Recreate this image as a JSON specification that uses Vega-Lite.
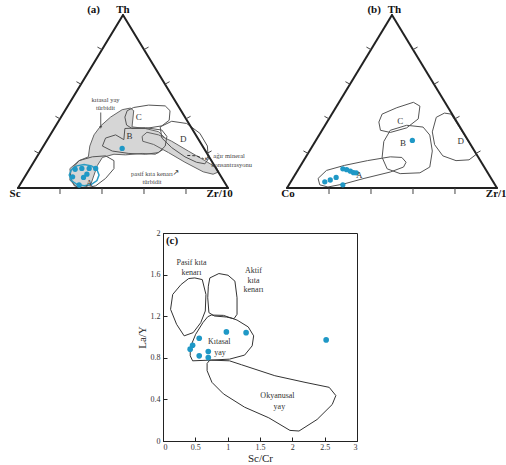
{
"$schema": "https://vega.github.io/schema/vega-lite/v6.json",
"background": "white",
"padding": 0,
"config": {"font": "Liberation Serif", "view": {"stroke": null}},
"datasets": {
"poly": [
{"p":"a","s":"G1","t":"gray","i":0,"x":0.252,"y":0.048},
{"p":"a","s":"G1","t":"gray","i":1,"x":0.247,"y":0.097},
{"p":"a","s":"G1","t":"gray","i":2,"x":0.291,"y":0.137},
{"p":"a","s":"G1","t":"gray","i":3,"x":0.335,"y":0.156},
{"p":"a","s":"G1","t":"gray","i":4,"x":0.342,"y":0.210},
{"p":"a","s":"G1","t":"gray","i":5,"x":0.362,"y":0.266},
{"p":"a","s":"G1","t":"gray","i":6,"x":0.394,"y":0.311},
{"p":"a","s":"G1","t":"gray","i":7,"x":0.441,"y":0.355},
{"p":"a","s":"G1","t":"gray","i":8,"x":0.496,"y":0.392},
{"p":"a","s":"G1","t":"gray","i":9,"x":0.535,"y":0.400},
{"p":"a","s":"G1","t":"gray","i":10,"x":0.551,"y":0.387},
{"p":"a","s":"G1","t":"gray","i":11,"x":0.543,"y":0.306},
{"p":"a","s":"G1","t":"gray","i":12,"x":0.606,"y":0.298},
{"p":"a","s":"G1","t":"gray","i":13,"x":0.669,"y":0.282},
{"p":"a","s":"G1","t":"gray","i":14,"x":0.701,"y":0.250},
{"p":"a","s":"G1","t":"gray","i":15,"x":0.693,"y":0.194},
{"p":"a","s":"G1","t":"gray","i":16,"x":0.654,"y":0.169},
{"p":"a","s":"G1","t":"gray","i":17,"x":0.591,"y":0.173},
{"p":"a","s":"G1","t":"gray","i":18,"x":0.512,"y":0.166},
{"p":"a","s":"G1","t":"gray","i":19,"x":0.457,"y":0.169},
{"p":"a","s":"G1","t":"gray","i":20,"x":0.402,"y":0.153},
{"p":"a","s":"G1","t":"gray","i":21,"x":0.378,"y":0.113},
{"p":"a","s":"G1","t":"gray","i":22,"x":0.362,"y":0.065},
{"p":"a","s":"G1","t":"gray","i":23,"x":0.346,"y":0.016},
{"p":"a","s":"G1","t":"gray","i":24,"x":0.307,"y":0.000},
{"p":"a","s":"G1","t":"gray","i":25,"x":0.268,"y":0.011},
{"p":"a","s":"P","t":"gray","i":0,"x":0.591,"y":0.258},
{"p":"a","s":"P","t":"gray","i":1,"x":0.614,"y":0.279},
{"p":"a","s":"P","t":"gray","i":2,"x":0.669,"y":0.266},
{"p":"a","s":"P","t":"gray","i":3,"x":0.732,"y":0.234},
{"p":"a","s":"P","t":"gray","i":4,"x":0.811,"y":0.185},
{"p":"a","s":"P","t":"gray","i":5,"x":0.890,"y":0.137},
{"p":"a","s":"P","t":"gray","i":6,"x":0.945,"y":0.102},
{"p":"a","s":"P","t":"gray","i":7,"x":0.956,"y":0.081},
{"p":"a","s":"P","t":"gray","i":8,"x":0.929,"y":0.069},
{"p":"a","s":"P","t":"gray","i":9,"x":0.882,"y":0.081},
{"p":"a","s":"P","t":"gray","i":10,"x":0.795,"y":0.129},
{"p":"a","s":"P","t":"gray","i":11,"x":0.717,"y":0.177},
{"p":"a","s":"P","t":"gray","i":12,"x":0.646,"y":0.218},
{"p":"a","s":"P","t":"gray","i":13,"x":0.594,"y":0.234},
{"p":"a","s":"A","t":"line","i":0,"x":0.252,"y":0.089},
{"p":"a","s":"A","t":"line","i":1,"x":0.291,"y":0.137},
{"p":"a","s":"A","t":"line","i":2,"x":0.354,"y":0.156},
{"p":"a","s":"A","t":"line","i":3,"x":0.417,"y":0.161},
{"p":"a","s":"A","t":"line","i":4,"x":0.457,"y":0.137},
{"p":"a","s":"A","t":"line","i":5,"x":0.457,"y":0.097},
{"p":"a","s":"A","t":"line","i":6,"x":0.417,"y":0.048},
{"p":"a","s":"A","t":"line","i":7,"x":0.370,"y":0.011},
{"p":"a","s":"A","t":"line","i":8,"x":0.323,"y":0.000},
{"p":"a","s":"A","t":"line","i":9,"x":0.276,"y":0.008},
{"p":"a","s":"A","t":"line","i":10,"x":0.247,"y":0.040},
{"p":"a","s":"B","t":"line","i":0,"x":0.509,"y":0.298},
{"p":"a","s":"B","t":"line","i":1,"x":0.606,"y":0.302},
{"p":"a","s":"B","t":"line","i":2,"x":0.685,"y":0.290},
{"p":"a","s":"B","t":"line","i":3,"x":0.709,"y":0.258},
{"p":"a","s":"B","t":"line","i":4,"x":0.701,"y":0.210},
{"p":"a","s":"B","t":"line","i":5,"x":0.669,"y":0.177},
{"p":"a","s":"B","t":"line","i":6,"x":0.606,"y":0.169},
{"p":"a","s":"B","t":"line","i":7,"x":0.528,"y":0.173},
{"p":"a","s":"B","t":"line","i":8,"x":0.449,"y":0.185},
{"p":"a","s":"B","t":"line","i":9,"x":0.402,"y":0.210},
{"p":"a","s":"B","t":"line","i":10,"x":0.417,"y":0.250},
{"p":"a","s":"B","t":"line","i":11,"x":0.465,"y":0.266},
{"p":"a","s":"B","t":"line","i":12,"x":0.504,"y":0.242},
{"p":"a","s":"C","t":"line","i":0,"x":0.520,"y":0.387},
{"p":"a","s":"C","t":"line","i":1,"x":0.551,"y":0.403},
{"p":"a","s":"C","t":"line","i":2,"x":0.622,"y":0.415},
{"p":"a","s":"C","t":"line","i":3,"x":0.701,"y":0.411},
{"p":"a","s":"C","t":"line","i":4,"x":0.724,"y":0.387},
{"p":"a","s":"C","t":"line","i":5,"x":0.720,"y":0.339},
{"p":"a","s":"C","t":"line","i":6,"x":0.685,"y":0.311},
{"p":"a","s":"C","t":"line","i":7,"x":0.606,"y":0.298},
{"p":"a","s":"C","t":"line","i":8,"x":0.543,"y":0.298},
{"p":"a","s":"C","t":"line","i":9,"x":0.517,"y":0.315},
{"p":"a","s":"C","t":"line","i":10,"x":0.509,"y":0.355},
{"p":"a","s":"D","t":"line","i":0,"x":0.677,"y":0.306},
{"p":"a","s":"D","t":"line","i":1,"x":0.732,"y":0.334},
{"p":"a","s":"D","t":"line","i":2,"x":0.803,"y":0.323},
{"p":"a","s":"D","t":"line","i":3,"x":0.866,"y":0.274},
{"p":"a","s":"D","t":"line","i":4,"x":0.902,"y":0.210},
{"p":"a","s":"D","t":"line","i":5,"x":0.906,"y":0.145},
{"p":"a","s":"D","t":"line","i":6,"x":0.890,"y":0.121},
{"p":"a","s":"D","t":"line","i":7,"x":0.850,"y":0.129},
{"p":"a","s":"D","t":"line","i":8,"x":0.795,"y":0.156},
{"p":"a","s":"D","t":"line","i":9,"x":0.732,"y":0.202},
{"p":"a","s":"D","t":"line","i":10,"x":0.685,"y":0.250},
{"p":"a","s":"E","t":"teal","i":0,"x":0.386,"y":0.065},
{"p":"a","s":"E","t":"teal","i":1,"x":0.376,"y":0.092},
{"p":"a","s":"E","t":"teal","i":2,"x":0.350,"y":0.111},
{"p":"a","s":"E","t":"teal","i":3,"x":0.315,"y":0.118},
{"p":"a","s":"E","t":"teal","i":4,"x":0.280,"y":0.111},
{"p":"a","s":"E","t":"teal","i":5,"x":0.254,"y":0.092},
{"p":"a","s":"E","t":"teal","i":6,"x":0.244,"y":0.065},
{"p":"a","s":"E","t":"teal","i":7,"x":0.254,"y":0.037},
{"p":"a","s":"E","t":"teal","i":8,"x":0.280,"y":0.018},
{"p":"a","s":"E","t":"teal","i":9,"x":0.315,"y":0.011},
{"p":"a","s":"E","t":"teal","i":10,"x":0.350,"y":0.018},
{"p":"a","s":"E","t":"teal","i":11,"x":0.376,"y":0.037},
{"p":"b","s":"A","t":"line","i":0,"x":0.148,"y":0.048},
{"p":"b","s":"A","t":"line","i":1,"x":0.188,"y":0.088},
{"p":"b","s":"A","t":"line","i":2,"x":0.273,"y":0.113},
{"p":"b","s":"A","t":"line","i":3,"x":0.383,"y":0.137},
{"p":"b","s":"A","t":"line","i":4,"x":0.492,"y":0.156},
{"p":"b","s":"A","t":"line","i":5,"x":0.547,"y":0.153},
{"p":"b","s":"A","t":"line","i":6,"x":0.567,"y":0.129},
{"p":"b","s":"A","t":"line","i":7,"x":0.555,"y":0.105},
{"p":"b","s":"A","t":"line","i":8,"x":0.492,"y":0.080},
{"p":"b","s":"A","t":"line","i":9,"x":0.367,"y":0.048},
{"p":"b","s":"A","t":"line","i":10,"x":0.273,"y":0.021},
{"p":"b","s":"A","t":"line","i":11,"x":0.195,"y":0.005},
{"p":"b","s":"A","t":"line","i":12,"x":0.156,"y":0.016},
{"p":"b","s":"B","t":"line","i":0,"x":0.461,"y":0.233},
{"p":"b","s":"B","t":"line","i":1,"x":0.492,"y":0.289},
{"p":"b","s":"B","t":"line","i":2,"x":0.570,"y":0.314},
{"p":"b","s":"B","t":"line","i":3,"x":0.648,"y":0.305},
{"p":"b","s":"B","t":"line","i":4,"x":0.680,"y":0.265},
{"p":"b","s":"B","t":"line","i":5,"x":0.692,"y":0.185},
{"p":"b","s":"B","t":"line","i":6,"x":0.680,"y":0.105},
{"p":"b","s":"B","t":"line","i":7,"x":0.633,"y":0.076},
{"p":"b","s":"B","t":"line","i":8,"x":0.539,"y":0.072},
{"p":"b","s":"B","t":"line","i":9,"x":0.477,"y":0.096},
{"p":"b","s":"B","t":"line","i":10,"x":0.453,"y":0.153},
{"p":"b","s":"C","t":"line","i":0,"x":0.4375,"y":0.330},
{"p":"b","s":"C","t":"line","i":1,"x":0.453,"y":0.370},
{"p":"b","s":"C","t":"line","i":2,"x":0.523,"y":0.402},
{"p":"b","s":"C","t":"line","i":3,"x":0.602,"y":0.429},
{"p":"b","s":"C","t":"line","i":4,"x":0.633,"y":0.410},
{"p":"b","s":"C","t":"line","i":5,"x":0.625,"y":0.346},
{"p":"b","s":"C","t":"line","i":6,"x":0.570,"y":0.301},
{"p":"b","s":"C","t":"line","i":7,"x":0.492,"y":0.278},
{"p":"b","s":"C","t":"line","i":8,"x":0.445,"y":0.289},
{"p":"b","s":"D","t":"line","i":0,"x":0.711,"y":0.354},
{"p":"b","s":"D","t":"line","i":1,"x":0.750,"y":0.375},
{"p":"b","s":"D","t":"line","i":2,"x":0.781,"y":0.370},
{"p":"b","s":"D","t":"line","i":3,"x":0.902,"y":0.169},
{"p":"b","s":"D","t":"line","i":4,"x":0.867,"y":0.141},
{"p":"b","s":"D","t":"line","i":5,"x":0.805,"y":0.137},
{"p":"b","s":"D","t":"line","i":6,"x":0.742,"y":0.161},
{"p":"b","s":"D","t":"line","i":7,"x":0.703,"y":0.217},
{"p":"b","s":"D","t":"line","i":8,"x":0.692,"y":0.281},
{"p":"c","s":"Pk","t":"line","i":0,"x":0.491,"y":1.568},
{"p":"c","s":"Pk","t":"line","i":1,"x":0.607,"y":1.552},
{"p":"c","s":"Pk","t":"line","i":2,"x":0.664,"y":1.409},
{"p":"c","s":"Pk","t":"line","i":3,"x":0.654,"y":1.250},
{"p":"c","s":"Pk","t":"line","i":4,"x":0.584,"y":1.138},
{"p":"c","s":"Pk","t":"line","i":5,"x":0.467,"y":1.042},
{"p":"c","s":"Pk","t":"line","i":6,"x":0.327,"y":1.011},
{"p":"c","s":"Pk","t":"line","i":7,"x":0.210,"y":1.122},
{"p":"c","s":"Pk","t":"line","i":8,"x":0.117,"y":1.266},
{"p":"c","s":"Pk","t":"line","i":9,"x":0.150,"y":1.409},
{"p":"c","s":"Pk","t":"line","i":10,"x":0.280,"y":1.505},
{"p":"c","s":"Pk","t":"line","i":11,"x":0.397,"y":1.562},
{"p":"c","s":"Ak","t":"line","i":0,"x":0.724,"y":1.568},
{"p":"c","s":"Ak","t":"line","i":1,"x":0.864,"y":1.610},
{"p":"c","s":"Ak","t":"line","i":2,"x":1.005,"y":1.594},
{"p":"c","s":"Ak","t":"line","i":3,"x":1.112,"y":1.537},
{"p":"c","s":"Ak","t":"line","i":4,"x":1.145,"y":1.377},
{"p":"c","s":"Ak","t":"line","i":5,"x":1.145,"y":1.218},
{"p":"c","s":"Ak","t":"line","i":6,"x":1.098,"y":1.176},
{"p":"c","s":"Ak","t":"line","i":7,"x":0.981,"y":1.192},
{"p":"c","s":"Ak","t":"line","i":8,"x":0.794,"y":1.202},
{"p":"c","s":"Ak","t":"line","i":9,"x":0.710,"y":1.234},
{"p":"c","s":"Ak","t":"line","i":10,"x":0.692,"y":1.377},
{"p":"c","s":"Ak","t":"line","i":11,"x":0.701,"y":1.489},
{"p":"c","s":"Ky","t":"line","i":0,"x":0.748,"y":1.211},
{"p":"c","s":"Ky","t":"line","i":1,"x":0.935,"y":1.208},
{"p":"c","s":"Ky","t":"line","i":2,"x":1.145,"y":1.163},
{"p":"c","s":"Ky","t":"line","i":3,"x":1.318,"y":1.097},
{"p":"c","s":"Ky","t":"line","i":4,"x":1.402,"y":1.011},
{"p":"c","s":"Ky","t":"line","i":5,"x":1.379,"y":0.915},
{"p":"c","s":"Ky","t":"line","i":6,"x":1.262,"y":0.826},
{"p":"c","s":"Ky","t":"line","i":7,"x":1.028,"y":0.787},
{"p":"c","s":"Ky","t":"line","i":8,"x":0.748,"y":0.778},
{"p":"c","s":"Ky","t":"line","i":9,"x":0.458,"y":0.771},
{"p":"c","s":"Ky","t":"line","i":10,"x":0.421,"y":0.819},
{"p":"c","s":"Ky","t":"line","i":11,"x":0.421,"y":0.899},
{"p":"c","s":"Ky","t":"line","i":12,"x":0.505,"y":1.026},
{"p":"c","s":"Ky","t":"line","i":13,"x":0.617,"y":1.138},
{"p":"c","s":"Ky","t":"line","i":14,"x":0.692,"y":1.195},
{"p":"c","s":"Oy","t":"line","i":0,"x":0.724,"y":0.778},
{"p":"c","s":"Oy","t":"line","i":1,"x":1.028,"y":0.771},
{"p":"c","s":"Oy","t":"line","i":2,"x":1.215,"y":0.733},
{"p":"c","s":"Oy","t":"line","i":3,"x":1.729,"y":0.628},
{"p":"c","s":"Oy","t":"line","i":4,"x":2.196,"y":0.564},
{"p":"c","s":"Oy","t":"line","i":5,"x":2.570,"y":0.516},
{"p":"c","s":"Oy","t":"line","i":6,"x":2.673,"y":0.437},
{"p":"c","s":"Oy","t":"line","i":7,"x":2.617,"y":0.351},
{"p":"c","s":"Oy","t":"line","i":8,"x":2.383,"y":0.207},
{"p":"c","s":"Oy","t":"line","i":9,"x":2.103,"y":0.096},
{"p":"c","s":"Oy","t":"line","i":10,"x":1.963,"y":0.102},
{"p":"c","s":"Oy","t":"line","i":11,"x":1.636,"y":0.223},
{"p":"c","s":"Oy","t":"line","i":12,"x":1.262,"y":0.325},
{"p":"c","s":"Oy","t":"line","i":13,"x":0.935,"y":0.453},
{"p":"c","s":"Oy","t":"line","i":14,"x":0.757,"y":0.564},
{"p":"c","s":"Oy","t":"line","i":15,"x":0.682,"y":0.676},
{"p":"c","s":"Oy","t":"line","i":16,"x":0.682,"y":0.746}
],
"dash": [
{"i":0,"x":0.806,"y":0.163},
{"i":1,"x":0.850,"y":0.161},
{"i":2,"x":0.884,"y":0.147}
],
"tri": [
{"k":"side","x":0,"y":0,"x2":1,"y2":0},
{"k":"side","x":0,"y":0,"x2":0.5,"y2":0.866},
{"k":"side","x":1,"y":0,"x2":0.5,"y2":0.866},
{"k":"tick","x":0.2,"y":0,"x2":0.2,"y2":-0.03},
{"k":"tick","x":0.4,"y":0,"x2":0.4,"y2":-0.03},
{"k":"tick","x":0.6,"y":0,"x2":0.6,"y2":-0.03},
{"k":"tick","x":0.8,"y":0,"x2":0.8,"y2":-0.03},
{"k":"tick","x":0.1,"y":0.1732,"x2":0.0783,"y2":0.1857},
{"k":"tick","x":0.2,"y":0.3464,"x2":0.1783,"y2":0.3589},
{"k":"tick","x":0.3,"y":0.5196,"x2":0.2783,"y2":0.5321},
{"k":"tick","x":0.4,"y":0.6928,"x2":0.3783,"y2":0.7053},
{"k":"tick","x":0.9,"y":0.1732,"x2":0.9217,"y2":0.1857},
{"k":"tick","x":0.8,"y":0.3464,"x2":0.8217,"y2":0.3589},
{"k":"tick","x":0.7,"y":0.5196,"x2":0.7217,"y2":0.5321},
{"k":"tick","x":0.6,"y":0.6928,"x2":0.6217,"y2":0.7053}
],
"dots": [
{"p":"a","x":0.272,"y":0.094},
{"p":"a","x":0.304,"y":0.098},
{"p":"a","x":0.339,"y":0.098},
{"p":"a","x":0.370,"y":0.098},
{"p":"a","x":0.328,"y":0.069},
{"p":"a","x":0.312,"y":0.053},
{"p":"a","x":0.260,"y":0.056},
{"p":"a","x":0.291,"y":0.015},
{"p":"a","x":0.496,"y":0.198},
{"p":"b","x":0.266,"y":0.096},
{"p":"b","x":0.284,"y":0.092},
{"p":"b","x":0.302,"y":0.084},
{"p":"b","x":0.317,"y":0.077},
{"p":"b","x":0.330,"y":0.076},
{"p":"b","x":0.234,"y":0.053},
{"p":"b","x":0.206,"y":0.040},
{"p":"b","x":0.180,"y":0.031},
{"p":"b","x":0.266,"y":0.016},
{"p":"b","x":0.597,"y":0.238},
{"p":"c","x":0.98,"y":1.049},
{"p":"c","x":1.285,"y":1.042},
{"p":"c","x":0.56,"y":0.988},
{"p":"c","x":0.458,"y":0.921},
{"p":"c","x":0.42,"y":0.883},
{"p":"c","x":0.56,"y":0.819},
{"p":"c","x":0.70,"y":0.861},
{"p":"c","x":0.70,"y":0.803},
{"p":"c","x":2.523,"y":0.972}
],
"texts": [
{"p":"a","k":"lab","x":0.36,"y":0.893,"text":"(a)"},
{"p":"a","k":"vtx","x":0.5,"y":0.893,"text":"Th"},
{"p":"a","k":"vtx","x":-0.014,"y":-0.03,"text":"Sc"},
{"p":"a","k":"vtx","x":0.96,"y":-0.03,"text":"Zr/10"},
{"p":"a","k":"fld","x":0.575,"y":0.355,"text":"C"},
{"p":"a","k":"fld","x":0.531,"y":0.258,"text":"B"},
{"p":"a","k":"fld","x":0.787,"y":0.247,"text":"D"},
{"p":"a","k":"fld","x":0.339,"y":0.026,"text":"A"},
{"p":"a","k":"note","x":0.417,"y":0.44,"text":"kıtasal yay"},
{"p":"a","k":"note","x":0.417,"y":0.40,"text":"türbidit"},
{"p":"a","k":"note","x":0.638,"y":0.068,"text":"pasif kıta kenarı"},
{"p":"a","k":"note","x":0.638,"y":0.030,"text":"türbidit"},
{"p":"a","k":"notel","x":0.93,"y":0.158,"text":"ağır mineral"},
{"p":"a","k":"notel","x":0.92,"y":0.113,"text":"konsantrasyonu"},
{"p":"a","k":"arr","x":0.752,"y":0.076,"text":"↗"},
{"p":"a","k":"arr","x":0.902,"y":0.152,"text":"↙"},
{"p":"b","k":"lab","x":0.415,"y":0.893,"text":"(b)"},
{"p":"b","k":"vtx","x":0.512,"y":0.893,"text":"Th"},
{"p":"b","k":"vtx","x":0.005,"y":-0.03,"text":"Co"},
{"p":"b","k":"vtxl","x":0.947,"y":-0.03,"text":"Zr/10"},
{"p":"b","k":"fld","x":0.539,"y":0.333,"text":"C"},
{"p":"b","k":"fld","x":0.552,"y":0.225,"text":"B"},
{"p":"b","k":"fld","x":0.828,"y":0.233,"text":"D"},
{"p":"b","k":"fld","x":0.344,"y":0.064,"text":"A"},
{"p":"c","k":"lab","x":0.14,"y":1.92,"text":"(c)"},
{"p":"c","k":"cf","x":0.44,"y":1.71,"text":"Pasif kıta"},
{"p":"c","k":"cf","x":0.44,"y":1.62,"text":"kenarı"},
{"p":"c","k":"cf","x":1.40,"y":1.63,"text":"Aktif"},
{"p":"c","k":"cf","x":1.40,"y":1.54,"text":"kıta"},
{"p":"c","k":"cf","x":1.40,"y":1.45,"text":"kenarı"},
{"p":"c","k":"cf","x":0.87,"y":0.956,"text":"Kıtasal"},
{"p":"c","k":"cf","x":0.88,"y":0.85,"text":"yay"},
{"p":"c","k":"cf","x":1.77,"y":0.43,"text":"Okyanusal"},
{"p":"c","k":"cf","x":1.80,"y":0.33,"text":"yay"}
],
"arrows": [
{"x":0.394,"y":0.378,"x2":0.394,"y2":0.305}
],
"heads": [
{"x":0.394,"y":0.303}
],
"blank": [
{"t":""}
]
},
"spacing": 28,
"vconcat": [
{
"spacing": 0,
"hconcat": [
{
"width": 270, "height": 200,
"view": {"stroke": null},
"encoding": {
"x": {"field": "x", "type": "quantitative", "scale": {"domain": [-0.0857, 1.2], "nice": false, "zero": false}, "axis": null},
"y": {"field": "y", "type": "quantitative", "scale": {"domain": [-0.06, 0.941], "nice": false, "zero": false}, "axis": null}
},
"layer": [
{"data": {"name": "poly"}, "transform": [{"filter": "datum.p == 'a' && datum.t == 'gray'"}],
 "mark": {"type": "line", "interpolate": "linear-closed", "fill": "#d6d6d6", "stroke": "#666", "strokeWidth": 1},
 "encoding": {"detail": {"field": "s"}, "order": {"field": "i", "type": "quantitative"}}},
{"data": {"name": "poly"}, "transform": [{"filter": "datum.p == 'a' && datum.t == 'line'"}],
 "mark": {"type": "line", "interpolate": "linear-closed", "stroke": "#555", "strokeWidth": 1},
 "encoding": {"detail": {"field": "s"}, "order": {"field": "i", "type": "quantitative"}}},
{"data": {"name": "poly"}, "transform": [{"filter": "datum.p == 'a' && datum.t == 'teal'"}],
 "mark": {"type": "line", "interpolate": "linear-closed", "stroke": "#2a9cc4", "strokeWidth": 1.5},
 "encoding": {"detail": {"field": "s"}, "order": {"field": "i", "type": "quantitative"}}},
{"data": {"name": "dash"},
 "mark": {"type": "line", "stroke": "#333", "strokeWidth": 1, "strokeDash": [3, 2]},
 "encoding": {"order": {"field": "i", "type": "quantitative"}}},
{"data": {"name": "arrows"},
 "mark": {"type": "rule", "stroke": "#333", "strokeWidth": 0.8},
 "encoding": {"x2": {"field": "x2"}, "y2": {"field": "y2"}}},
{"data": {"name": "heads"},
 "mark": {"type": "point", "shape": "triangle-down", "filled": true, "color": "#333", "size": 10},
 "encoding": {}},
{"data": {"name": "tri"}, "transform": [{"filter": "datum.k == 'side'"}],
 "mark": {"type": "rule", "stroke": "#222", "strokeWidth": 2, "strokeCap": "round"},
 "encoding": {"x2": {"field": "x2"}, "y2": {"field": "y2"}}},
{"data": {"name": "tri"}, "transform": [{"filter": "datum.k == 'tick'"}],
 "mark": {"type": "rule", "stroke": "#444", "strokeWidth": 1},
 "encoding": {"x2": {"field": "x2"}, "y2": {"field": "y2"}}},
{"data": {"name": "dots"}, "transform": [{"filter": "datum.p == 'a'"}],
 "mark": {"type": "circle", "color": "#1f98c6", "size": 28, "opacity": 1},
 "encoding": {}},
{"data": {"name": "texts"}, "transform": [{"filter": "datum.p == 'a' && (datum.k == 'lab' || datum.k == 'vtx')"}],
 "mark": {"type": "text", "fontSize": 11, "fontWeight": "bold", "color": "#111", "baseline": "middle"},
 "encoding": {"text": {"field": "text"}}},
{"data": {"name": "texts"}, "transform": [{"filter": "datum.p == 'a' && datum.k == 'fld'"}],
 "mark": {"type": "text", "fontSize": 9, "color": "#333", "baseline": "middle"},
 "encoding": {"text": {"field": "text"}}},
{"data": {"name": "texts"}, "transform": [{"filter": "datum.p == 'a' && datum.k == 'note'"}],
 "mark": {"type": "text", "fontSize": 6.5, "color": "#444", "baseline": "middle"},
 "encoding": {"text": {"field": "text"}}},
{"data": {"name": "texts"}, "transform": [{"filter": "datum.p == 'a' && datum.k == 'notel'"}],
 "mark": {"type": "text", "fontSize": 6.5, "color": "#444", "baseline": "middle", "align": "left"},
 "encoding": {"text": {"field": "text"}}},
{"data": {"name": "texts"}, "transform": [{"filter": "datum.p == 'a' && datum.k == 'arr'"}],
 "mark": {"type": "text", "fontSize": 8, "font": "DejaVu Sans", "color": "#333", "baseline": "middle"},
 "encoding": {"text": {"field": "text"}}}
]
},
{
"width": 236, "height": 200,
"view": {"stroke": null},
"encoding": {
"x": {"field": "x", "type": "quantitative", "scale": {"domain": [-0.081, 1.043], "nice": false, "zero": false}, "axis": null},
"y": {"field": "y", "type": "quantitative", "scale": {"domain": [-0.06, 0.941], "nice": false, "zero": false}, "axis": null}
},
"layer": [
{"data": {"name": "poly"}, "transform": [{"filter": "datum.p == 'b'"}],
 "mark": {"type": "line", "interpolate": "linear-closed", "stroke": "#555", "strokeWidth": 1},
 "encoding": {"detail": {"field": "s"}, "order": {"field": "i", "type": "quantitative"}}},
{"data": {"name": "tri"}, "transform": [{"filter": "datum.k == 'side'"}],
 "mark": {"type": "rule", "stroke": "#222", "strokeWidth": 2, "strokeCap": "round"},
 "encoding": {"x2": {"field": "x2"}, "y2": {"field": "y2"}}},
{"data": {"name": "tri"}, "transform": [{"filter": "datum.k == 'tick'"}],
 "mark": {"type": "rule", "stroke": "#444", "strokeWidth": 1},
 "encoding": {"x2": {"field": "x2"}, "y2": {"field": "y2"}}},
{"data": {"name": "dots"}, "transform": [{"filter": "datum.p == 'b'"}],
 "mark": {"type": "circle", "color": "#1f98c6", "size": 28, "opacity": 1},
 "encoding": {}},
{"data": {"name": "texts"}, "transform": [{"filter": "datum.p == 'b' && (datum.k == 'lab' || datum.k == 'vtx')"}],
 "mark": {"type": "text", "fontSize": 11, "fontWeight": "bold", "color": "#111", "baseline": "middle"},
 "encoding": {"text": {"field": "text"}}},
{"data": {"name": "texts"}, "transform": [{"filter": "datum.p == 'b' && datum.k == 'vtxl'"}],
 "mark": {"type": "text", "fontSize": 11, "fontWeight": "bold", "color": "#111", "baseline": "middle", "align": "left", "clip": true},
 "encoding": {"text": {"field": "text"}}},
{"data": {"name": "texts"}, "transform": [{"filter": "datum.p == 'b' && datum.k == 'fld'"}],
 "mark": {"type": "text", "fontSize": 9, "color": "#333", "baseline": "middle"},
 "encoding": {"text": {"field": "text"}}}
]
}
]
},
{
"spacing": 0,
"bounds": "flush",
"hconcat": [
{
"width": 163, "height": 10,
"view": {"stroke": null},
"data": {"name": "blank"},
"mark": {"type": "text"},
"encoding": {"text": {"field": "t"}}
},
{
"width": 194, "height": 208,
"view": {"stroke": "#222", "strokeWidth": 1},
"encoding": {
"x": {"field": "x", "type": "quantitative", "scale": {"domain": [0, 3], "nice": false, "zero": false},
 "axis": {"values": [0, 0.5, 1, 1.5, 2, 2.5, 3], "format": ".1~f", "title": "Sc/Cr", "grid": false, "tickSize": -4, "labelFontSize": 8, "titleFontSize": 11, "titleFontWeight": "normal", "domainColor": "#222", "tickColor": "#222", "labelColor": "#333", "titleColor": "#222", "labelPadding": 6, "titlePadding": 1, "labelFont": "Liberation Serif", "titleFont": "Liberation Serif"}},
"y": {"field": "y", "type": "quantitative", "scale": {"domain": [0, 2], "nice": false, "zero": false},
 "axis": {"values": [0, 0.4, 0.8, 1.2, 1.6, 2], "format": ".1~f", "title": "La/Y", "grid": false, "tickSize": -4, "labelFontSize": 8, "titleFontSize": 11, "titleFontWeight": "normal", "domainColor": "#222", "tickColor": "#222", "labelColor": "#333", "titleColor": "#222", "labelPadding": 7, "titlePadding": 3, "labelFont": "Liberation Serif", "titleFont": "Liberation Serif"}}
},
"layer": [
{"data": {"name": "poly"}, "transform": [{"filter": "datum.p == 'c'"}],
 "mark": {"type": "line", "interpolate": "linear-closed", "stroke": "#333", "strokeWidth": 1},
 "encoding": {"detail": {"field": "s"}, "order": {"field": "i", "type": "quantitative"}}},
{"data": {"name": "dots"}, "transform": [{"filter": "datum.p == 'c'"}],
 "mark": {"type": "circle", "color": "#1f98c6", "size": 32, "opacity": 1},
 "encoding": {}},
{"data": {"name": "texts"}, "transform": [{"filter": "datum.p == 'c' && datum.k == 'lab'"}],
 "mark": {"type": "text", "fontSize": 11, "fontWeight": "bold", "color": "#111", "baseline": "middle"},
 "encoding": {"text": {"field": "text"}}},
{"data": {"name": "texts"}, "transform": [{"filter": "datum.p == 'c' && datum.k == 'cf'"}],
 "mark": {"type": "text", "fontSize": 8, "color": "#333", "baseline": "middle"},
 "encoding": {"text": {"field": "text"}}}
]
}
]
}
]
}
